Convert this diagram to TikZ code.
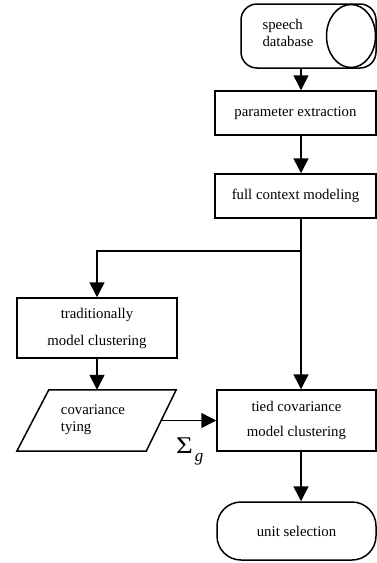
\documentclass[tikz,border=0pt]{standalone}
\usepackage{fontspec}
\usepackage{graphicx}
\setmainfont{Liberation Serif}
\usetikzlibrary{arrows.meta}
\tikzset{
  box/.style={draw, line width=1.5pt, inner sep=0pt, align=center, font=\fontsize{14.8}{17}\selectfont},
  arr/.style={line width=1.5pt, -{Triangle[width=15pt,length=15pt]}},
  plain/.style={line width=1.5pt},
  txt/.style={inner sep=0pt, font=\fontsize{14.8}{17}\selectfont}
}
\begin{document}
\begin{tikzpicture}[x=1pt,y=-1pt]
\useasboundingbox (0,0) rectangle (377,563);
% speech database
\node[box, rounded corners=16pt, minimum width=135, minimum height=64] (db) at (308.5,36) {};
\draw[line width=1.5pt] (351,36) ellipse [x radius=24.5, y radius=31.5];
\node[txt, align=left] (dbtext) at (288,33) {speech\\database};
% boxes
\node[box, minimum width=161, minimum height=44] (pe) at (295.5,113) {parameter extraction};
\node[box, minimum width=161, minimum height=44] (fc) at (295.5,196) {full context modeling};
\node[box, minimum width=160, minimum height=60] (tm) at (97,328) {traditionally\\[10pt]model clustering};
\node[inner sep=0pt, minimum width=129, minimum height=61] (ct) at (96.5,420.5) {};
\draw[line width=1.5pt, line join=miter] ([xshift=17pt]ct.north west) -- ([xshift=15pt]ct.north east) -- ([xshift=-15pt]ct.south east) -- ([xshift=-15pt]ct.south west) -- cycle;
\node[txt, align=left] (cttext) at (93,420) {covariance\\tying};
\node[box, minimum width=159, minimum height=61] (tc) at (296.5,420.5) {tied covariance\\[8pt]model clustering};
\node[box, rounded corners=24pt, minimum width=159, minimum height=58] (us) at (296.5,531) {unit selection};
% connectors
\coordinate (spine) at (301,0);
\coordinate (split) at (301,251);
\draw[arr] (db.south -| spine) -- (pe.north -| spine);
\draw[arr] (pe.south -| spine) -- (fc.north -| spine);
\draw[plain] (fc.south -| split) -- (split);
\draw[arr] (split) -| (tm.north);
\draw[arr] (split) -- (tc.north -| split);
\draw[arr] (tm.south) -- (tm.south |- ct.north);
\draw[arr] (ct.east) -- (tc.west);
\node[inner sep=0pt, anchor=base west] (sig) at (176,453.5) {{\fontsize{24}{24}\selectfont\scalebox{1.2}[1]{Σ}}\kern2pt\raisebox{-8pt}{\fontsize{17}{17}\selectfont\itshape g}};
\draw[arr] (tc.south -| spine) -- (us.north -| spine);
\end{tikzpicture}
\end{document}
